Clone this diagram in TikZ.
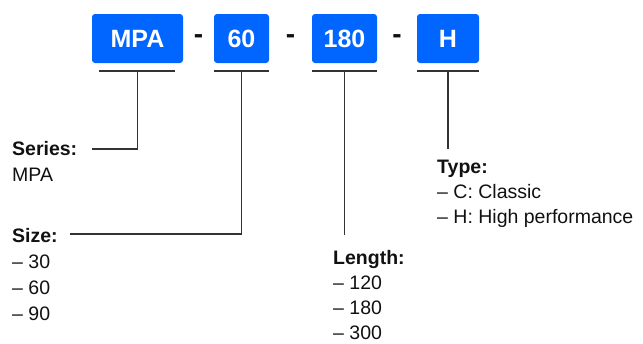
\documentclass[tikz,border=0pt]{standalone}
\usepackage{fontspec}
\setmainfont{Liberation Sans}
\definecolor{boxblue}{RGB}{0,102,255}
\definecolor{linegray}{RGB}{51,51,51}
\definecolor{txt}{RGB}{17,17,17}
\tikzset{
  codebox/.style={fill=boxblue, rounded corners=3pt, inner sep=0pt, text=white,
    font=\fontsize{25}{29}\selectfont\bfseries},
  sep/.style={font=\fontsize{28}{30}\selectfont\bfseries, text=txt, inner sep=0pt},
  conn/.style={draw=linegray, line width=1.3pt},
  uline/.style={draw=linegray, line width=2pt},
  head/.style={anchor=base west, inner sep=0pt, text=txt, font=\fontsize{19.5}{22}\selectfont\bfseries},
  item/.style={anchor=base west, inner sep=0pt, text=txt, font=\fontsize{19.5}{22}\selectfont},
}
\begin{document}
\begin{tikzpicture}[x=1pt,y=-1pt]
\useasboundingbox (0,0) rectangle (643,343);
% code boxes
\node[codebox, minimum width=91pt, minimum height=49pt] (mpa) at (137.5,38.5) {MPA};
\node[codebox, minimum width=55pt, minimum height=49pt] (s60) at (241.5,38.5) {60};
\node[codebox, minimum width=65pt, minimum height=49pt] (s180) at (344.5,38.5) {180};
\node[codebox, minimum width=62pt, minimum height=49pt] (sH) at (448,38.5) {H};
\node[sep] (d1) at (198.5,39) {-};
\node[sep] (d2) at (290.5,39) {-};
\node[sep] (d3) at (397,39) {-};
% underlines
\coordinate (mpaU) at (mpa.center |- 0,71);
\coordinate (s60U) at (s60.center |- 0,71);
\coordinate (s180U) at (s180.center |- 0,71);
\coordinate (sHU) at (sH.center |- 0,71);
\draw[uline] (99,71) -- (175,71);
\draw[uline] (s60.west |- s60U) -- (s60.east |- s60U);
\draw[uline] (s180.west |- s180U) -- (s180.east |- s180U);
\draw[uline] (sH.west |- sHU) -- (sH.east |- sHU);
% texts
\node[head] (series) at (12,155) {Series:};
\node[item] (seriesA) at (12,181) {MPA};
\node[head] (size) at (12,242) {Size:};
\node[item] (size1) at (12,268) {– 30};
\node[item] (size2) at (12,294) {– 60};
\node[item] (size3) at (12,320) {– 90};
\node[head] (type) at (437,173) {Type:};
\node[item] (type1) at (437,198) {– C: Classic};
\node[item] (type2) at (437,223) {– H: High performance};
\node[head] (length) at (333,264) {Length:};
\node[item] (len1) at (333,289) {– 120};
\node[item] (len2) at (333,314) {– 180};
\node[item] (len3) at (333,339) {– 300};
% connector ends
\coordinate (seriesEnd) at (92,149);
\coordinate (sizeEnd) at (70,234);
\coordinate (lenEnd) at (s180.center |- 0,235);
\coordinate (typeEnd) at (sH.center |- 0,149);
\draw[conn] (mpaU) |- (seriesEnd);
\draw[conn] (s60U) |- (sizeEnd);
\draw[conn] (s180U) -- (lenEnd);
\draw[conn] (sHU) -- (typeEnd);
\end{tikzpicture}
\end{document}
